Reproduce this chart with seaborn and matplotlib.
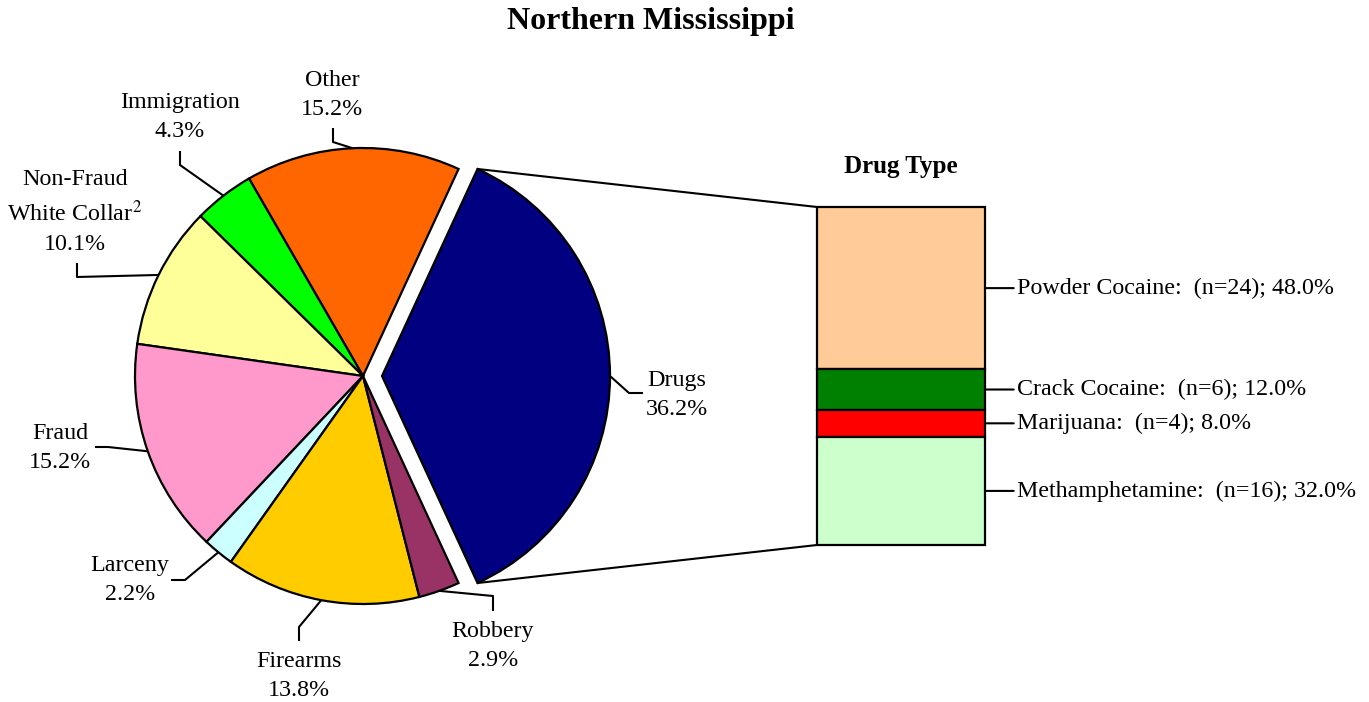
import numpy as np
import matplotlib
matplotlib.use("Agg")
import matplotlib.pyplot as plt
import seaborn as sns
from matplotlib.patches import ConnectionPatch

# ---------------- data ----------------
categories = ["Drugs", "Other", "Immigration", "Non-Fraud\nWhite Collar$^{2}$",
              "Fraud", "Larceny", "Firearms", "Robbery"]
shares = [36.2, 15.2, 4.3, 10.1, 15.2, 2.2, 13.8, 2.9]
pie_colors = ["#000080", "#FF6600", "#00FF00", "#FFFF99",
              "#FF99CC", "#CCFFFF", "#FFCC00", "#993366"]

drug_types = ["Powder Cocaine", "Crack Cocaine", "Marijuana", "Methamphetamine"]
drug_counts = [24, 6, 4, 16]
drug_pcts = [48.0, 12.0, 8.0, 32.0]
drug_colors = ["#FFCC99", "#008000", "#FF0000", "#CCFFCC"]

title = "Northern Mississippi"
bar_title = "Drug Type"

# ---------------- style ----------------
sns.set_theme(style="white")
plt.rcParams["font.family"] = ["Liberation Serif", "DejaVu Serif"]
plt.rcParams["mathtext.fontset"] = "stix"

W, H = 1369, 702
fig = plt.figure(figsize=(W / 100, H / 100), dpi=100)
fig.patch.set_facecolor("white")
ax = fig.add_axes([0, 0, 1, 1])


def Y(y):
    return H - y


LW = 1.6
FS = 17.3

# pie
explode = [19] + [0] * (len(shares) - 1)
wedges, _ = ax.pie(shares, colors=pie_colors, startangle=-shares[0] / sum(shares) * 180,
                   counterclock=True, explode=explode, radius=228,
                   center=(363, Y(376)), normalize=True,
                   wedgeprops=dict(edgecolor="black", linewidth=LW))
ax.set_xlim(0, W)
ax.set_ylim(0, H)
ax.set_aspect("auto")
ax.axis("off")

# label layout: (text centre, elbow, end) in pixels from top-left
label_layout = [
    ((677, 395), (629, 393), (643, 393)),
    ((332, 95), (333, 142), (333, 128)),
    ((180, 117), (180, 165), (180, 151)),
    ((75, 212), (77, 277), (77, 263)),
    ((60, 448), (108, 447), (95, 447)),
    ((130, 580), (185, 580), (171, 580)),
    ((299, 676), (299, 627), (299, 641)),
    ((493, 646), (493, 596), (493, 611)),
]

for w, name, val, (tpos, elbow, end) in zip(wedges, categories, shares, label_layout):
    th = np.deg2rad((w.theta1 + w.theta2) / 2)
    cx, cy = w.center
    px, py = cx + w.r * np.cos(th), cy + w.r * np.sin(th)
    ax.plot([px, elbow[0], end[0]], [py, Y(elbow[1]), Y(end[1])],
            color="black", lw=1.5, solid_capstyle="butt", zorder=3)
    ax.text(tpos[0], Y(tpos[1]), f"{name}\n{val:.1f}%", ha="center", va="center",
            fontsize=FS, color="black", linespacing=1.48)

ax.text(651, Y(22), title, ha="center", va="center", fontsize=23,
        fontweight="bold", color="black")

# stacked bar
bax = fig.add_axes([817 / W, (H - 545) / H, 168 / W, 338 / H])
bax.set_xlim(-0.5, 0.5)
bax.set_ylim(0, 100)
bax.axis("off")
tops = 100 - np.concatenate([[0], np.cumsum(drug_pcts)[:-1]])
bottoms = tops - np.array(drug_pcts)
for name, n, pct, col, b in zip(drug_types, drug_counts, drug_pcts, drug_colors, bottoms):
    bax.bar(0, pct, width=1, bottom=b, color=col, edgecolor="black",
            linewidth=LW, clip_on=False)
    bax.annotate(f"{name}:  (n={n}); {pct:.1f}%", xy=(0.5, b + pct / 2),
                 xytext=(32, 0), textcoords="offset pixels", ha="left", va="center",
                 fontsize=FS, color="black", annotation_clip=False,
                 arrowprops=dict(arrowstyle="-", lw=1.5, shrinkA=0, shrinkB=0,
                                 relpos=(0, 0.5), color="black"))

bax.text(0.5, 1.12, bar_title, transform=bax.transAxes, ha="center", va="center",
         fontsize=18, fontweight="bold", color="black")

# connector lines from exploded wedge to bar
dw = wedges[0]
for theta, ybar in [(dw.theta2, 100), (dw.theta1, 0)]:
    t = np.deg2rad(theta)
    p = (dw.center[0] + dw.r * np.cos(t), dw.center[1] + dw.r * np.sin(t))
    con = ConnectionPatch(xyA=p, coordsA=ax.transData, xyB=(-0.5, ybar),
                          coordsB=bax.transData, color="black", lw=1.5)
    fig.add_artist(con)

fig.savefig("out.png", dpi=100, facecolor="white")
